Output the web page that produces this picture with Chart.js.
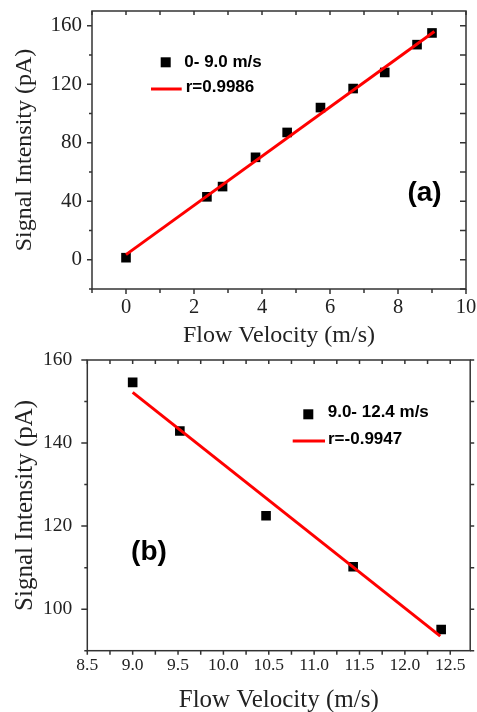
<!DOCTYPE html>
<html>
<head>
<meta charset="utf-8">
<script src="https://cdn.jsdelivr.net/npm/chart.js@4.4.1/dist/chart.umd.min.js"></script>
<style>
  html, body { margin: 0; padding: 0; background: #fff; }
  #wrap { position: relative; width: 477px; height: 712px; }
  canvas { position: absolute; left: 0; }
  #chartA { top: 0; }
  #chartB { top: 350px; }
</style>
</head>
<body>
<div id="wrap">
  <canvas id="chartA" width="477" height="350"></canvas>
  <canvas id="chartB" width="477" height="362"></canvas>
</div>
<script>
// (a) 0 - 9.0 m/s
const velA = [0, 2.38, 2.84, 3.81, 4.74, 5.72, 6.68, 7.61, 8.56, 9.0];
const sigA = [1.4, 43, 50, 70, 87, 104, 117, 128, 147, 155];
const fitA = [[0, 3.5], [9.07, 156]];
const xLabelsA = [0, 2, 4, 6, 8, 10];
const yLabelsA = [0, 40, 80, 120, 160];

// (b) 9.0 - 12.4 m/s
const velB = [9.0, 9.52, 10.47, 11.43, 12.4];
const sigB = [154.6, 142.9, 122.5, 110.2, 95.1];
const fitB = [[9.0, 152.2], [12.39, 93.5]];
const xLabelsB = [8.5, 9.0, 9.5, 10.0, 10.5, 11.0, 11.5, 12.0, 12.5];
const yLabelsB = [100, 120, 140, 160];

const serif = 'Liberation Serif';
const sans = 'Liberation Sans';
const ink = '#222';

const range = (a, b, s) => {
  let out = [];
  for (let i = 0; a + i * s <= b + 1e-9; i++) out.push(+(a + i * s).toFixed(3));
  return out;
};

// frame + tick marks on all four sides; len > 0 points out of the plot, < 0 points in
const frame = {
  id: 'frame',
  afterDraw(chart, args, o) {
    const {ctx, chartArea: a, scales: {x, y}} = chart;
    ctx.save();
    ctx.strokeStyle = '#333';
    ctx.lineWidth = 1.5;
    ctx.strokeRect(a.left, a.top, a.right - a.left, a.bottom - a.top);
    ctx.beginPath();
    o.xTicks.forEach(v => {
      const px = x.getPixelForValue(v);
      const lb = o.bottom(v), lt = o.top(v);
      ctx.moveTo(px, a.bottom); ctx.lineTo(px, a.bottom + lb);
      ctx.moveTo(px, a.top); ctx.lineTo(px, a.top - lt);
    });
    o.yTicks.forEach(v => {
      const py = y.getPixelForValue(v);
      const ll = o.left(v), lr = o.right(v);
      ctx.moveTo(a.left, py); ctx.lineTo(a.left - ll, py);
      ctx.moveTo(a.right, py); ctx.lineTo(a.right + lr, py);
    });
    ctx.stroke();

    // legend and panel tag
    const L = o.legend;
    ctx.fillStyle = '#000';
    ctx.fillRect(L.mark[0] - 5, L.mark[1] - 5, 10, 10);
    ctx.strokeStyle = '#ff0000';
    ctx.lineWidth = 3;
    ctx.beginPath();
    ctx.moveTo(L.line[0], L.line[2]);
    ctx.lineTo(L.line[1], L.line[2]);
    ctx.stroke();
    ctx.font = 'bold 17px ' + sans;
    ctx.textBaseline = 'middle';
    ctx.textAlign = 'left';
    ctx.fillText(L.text1, L.t1[0], L.t1[1]);
    ctx.fillText(L.text2, L.t2[0], L.t2[1]);
    ctx.font = 'bold 28px ' + sans;
    ctx.textAlign = 'center';
    ctx.fillText(L.tag, L.tagPos[0], L.tagPos[1]);
    ctx.restore();
  }
};

function fixedScale(size, horizontal) {
  return function (scale) {
    if (horizontal) scale.height = size; else scale.width = size;
    scale.paddingLeft = 0; scale.paddingRight = 0;
    scale.paddingTop = 0; scale.paddingBottom = 0;
  };
}

function makeChart(id, cfg) {
  return new Chart(document.getElementById(id), {
    type: 'scatter',
    data: {
      datasets: [{
        data: cfg.fit.map(p => ({x: p[0], y: p[1]})),
        showLine: true,
        borderColor: '#ff0000',
        borderWidth: 3,
        pointRadius: 0
      }, {
        data: cfg.vel.map((v, i) => ({x: v, y: cfg.sig[i]})),
        pointStyle: 'rect',
        pointRadius: 6.8,
        backgroundColor: '#000',
        borderWidth: 0
      }]
    },
    options: {
      responsive: false,
      animation: false,
      events: [],
      layout: {padding: cfg.pad},
      plugins: {
        legend: {display: false},
        tooltip: {enabled: false},
        frame: cfg.frame
      },
      scales: {
        x: {
          type: 'linear',
          min: cfg.xMin, max: cfg.xMax,
          grid: {display: false, drawTicks: false},
          border: {display: false},
          afterBuildTicks: s => { s.ticks = cfg.xLabels.map(v => ({value: v})); },
          afterFit: fixedScale(cfg.xH, true),
          ticks: {
            font: {family: serif, size: cfg.xFont},
            color: ink,
            padding: cfg.xPad,
            maxRotation: 0,
            autoSkip: false,
            callback: cfg.xFmt
          },
          title: {
            display: true,
            text: 'Flow Velocity (m/s)',
            font: {family: serif, size: cfg.titleFont},
            color: ink,
            padding: {top: 0, bottom: cfg.xTitlePad}
          }
        },
        y: {
          type: 'linear',
          min: cfg.yMin, max: cfg.yMax,
          grid: {display: false, drawTicks: false},
          border: {display: false},
          afterBuildTicks: s => { s.ticks = cfg.yLabels.map(v => ({value: v})); },
          afterFit: fixedScale(cfg.yW, false),
          ticks: {
            font: {family: serif, size: cfg.yFont},
            color: ink,
            padding: cfg.yPad,
            autoSkip: false
          },
          title: {
            display: true,
            text: 'Signal Intensity (pA)',
            font: {family: serif, size: cfg.titleFont},
            color: ink,
            padding: {top: cfg.yTitlePad, bottom: 0}
          }
        }
      }
    },
    plugins: [frame]
  });
}

makeChart('chartA', {
  vel: velA, sig: sigA, fit: fitA,
  xMin: -1, xMax: 10, yMin: -20, yMax: 170,
  xLabels: xLabelsA, yLabels: yLabelsA,
  xFmt: v => String(v),
  pad: {left: 0, top: 11, right: 11, bottom: 0},
  xH: 61, yW: 92,
  xFont: 20.5, yFont: 21, titleFont: 24,
  xPad: 6, yPad: 10, xTitlePad: 0, yTitlePad: 10,
  frame: {
    xTicks: range(-1, 10, 1),
    yTicks: range(-20, 160, 20),
    bottom: v => (v % 2 === 0 ? 5 : 4),
    top: v => -4,
    left: v => (v % 40 === 0 ? 5 : 3),
    right: v => -6,
    legend: {
      mark: [165.7, 62.3], line: [151, 181.7, 89],
      text1: '0- 9.0 m/s', t1: [184.3, 62],
      text2: 'r=0.9986', t2: [185.7, 87.5],
      tag: '(a)', tagPos: [424.5, 193]
    }
  }
});

makeChart('chartB', {
  vel: velB, sig: sigB, fit: fitB,
  xMin: 8.5, xMax: 12.72, yMin: 90, yMax: 160,
  xLabels: xLabelsB, yLabels: yLabelsB,
  xFmt: v => v.toFixed(1),
  pad: {left: 0, top: 10, right: 4.7, bottom: 0},
  xH: 61.3, yW: 87.3,
  xFont: 17.5, yFont: 19.5, titleFont: 25,
  xPad: 4, yPad: 15, xTitlePad: -3, yTitlePad: 10,
  frame: {
    xTicks: range(8.5, 12.5, 0.25),
    yTicks: range(90, 160, 10),
    bottom: v => 4,
    top: v => -4,
    left: v => (v % 20 === 0 ? 6 : 3),
    right: v => 4,
    legend: {
      mark: [308.3, 64.3], line: [292.7, 325, 91],
      text1: '9.0- 12.4 m/s', t1: [327.7, 62],
      text2: 'r=-0.9947', t2: [328, 89],
      tag: '(b)', tagPos: [149, 202.3]
    }
  }
});
</script>
</body>
</html>
